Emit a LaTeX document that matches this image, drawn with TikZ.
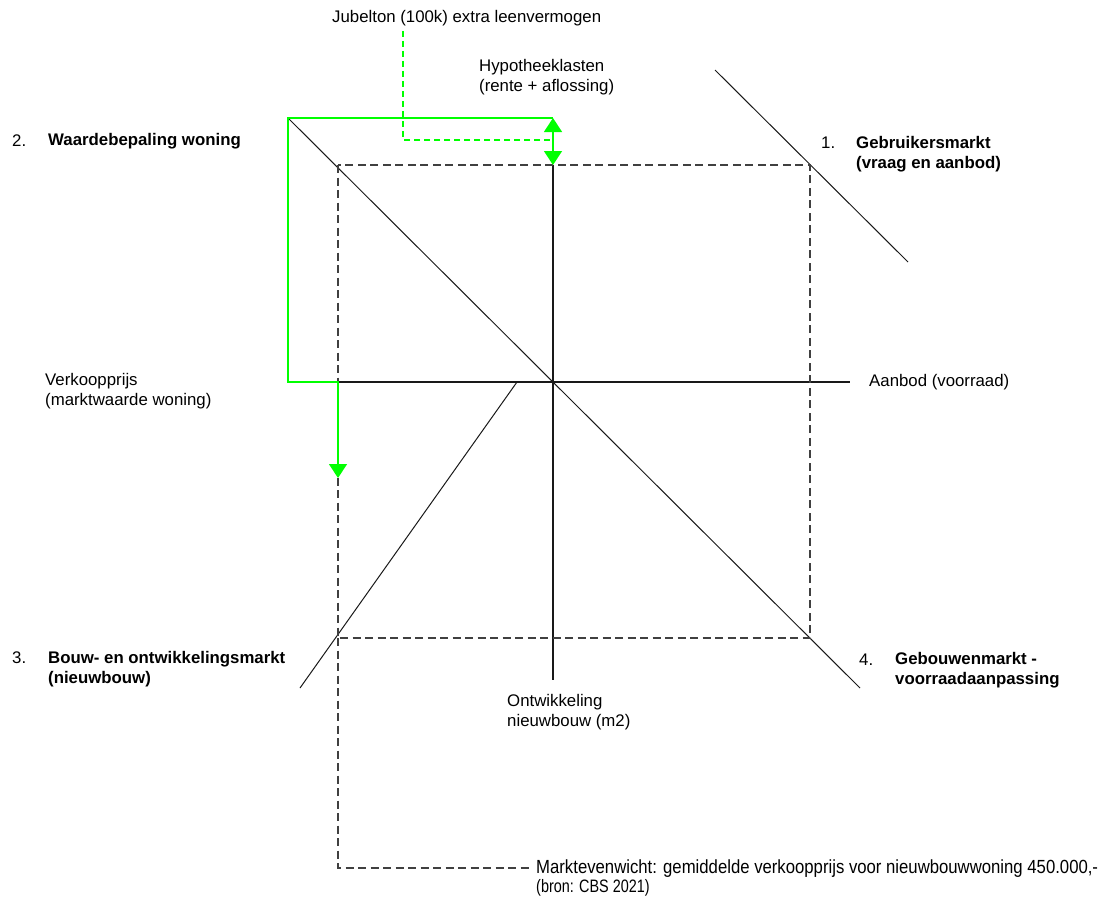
\documentclass[tikz,border=0pt]{standalone}
\usepackage{fontspec}
\setmainfont{Liberation Sans}
\newfontfamily\narrowfont[FakeStretch=0.8]{Liberation Sans}
\newfontfamily\semnarrowfont[FakeStretch=0.88]{Liberation Sans}
\usetikzlibrary{arrows.meta}
\begin{document}
\begin{tikzpicture}[x=1pt,y=-1pt,
  lbl/.style={inner sep=0pt,anchor=west,align=left,font=\fontsize{16.8}{20}\selectfont},
  blbl/.style={lbl,font=\fontsize{16.8}{20}\selectfont\bfseries},
  axis/.style={draw=black!90,line width=1.2pt},
  guide/.style={draw=black!75,line width=1.2pt,dash pattern=on 8pt off 4.5pt},
  flow/.style={draw=green,line width=1.3pt},
  flowdash/.style={flow,dash pattern=on 6pt off 4pt},
  tip/.style={-{Triangle[width=18pt,length=14pt]}}]
\path[use as bounding box] (0,0) rectangle (1105,899);

% labels
\node[lbl] (jubel) at (332,18) {Jubelton (100k) extra leenvermogen};
\node[lbl] (hypo) at (479,77) {Hypotheeklasten\\(rente + aflossing)};
\node[lbl] (n2) at (12,141) {2.};
\node[blbl] (waarde) at (48,141) {Waardebepaling woning};
\node[lbl] (n1) at (821,143) {1.};
\node[blbl] (gebruik) at (856,154) {Gebruikersmarkt\\(vraag en aanbod)};
\node[lbl] (verkoop) at (45,391) {Verkoopprijs\\(marktwaarde woning)};
\node[lbl] (aanbod) at (869,382) {Aanbod (voorraad)};
\node[lbl] (n3) at (12,658) {3.};
\node[blbl] (bouw) at (48,669) {Bouw- en ontwikkelingsmarkt\\(nieuwbouw)};
\node[lbl] (n4) at (859,660) {4.};
\node[blbl] (gebouw) at (895,670) {Gebouwenmarkt -\\voorraadaanpassing};
\node[lbl] (ontw) at (507,712) {Ontwikkeling\\nieuwbouw (m2)};
\node[lbl,font=\fontsize{16.8}{19}\selectfont] (markt) at (536,878)
  {{\semnarrowfont\fontsize{19}{19}\selectfont Marktevenwicht: gemiddelde verkoopprijs voor nieuwbouwwoning 450.000,-}\\
   {\narrowfont\fontsize{18}{19}\selectfont (bron: CBS 2021)}};

% reference points
\coordinate (O) at (553,382);
\coordinate (axL) at (338,382);
\coordinate (axR) at (850,382);
\coordinate (axT) at (553,165);
\coordinate (axB) at (553,680);
\coordinate (dgA) at (288,118);
\coordinate (dgB) at (860,688);
\coordinate (usA) at (715,70);
\coordinate (usB) at (908,262);
\coordinate (bwA) at (300,688);
\coordinate (bwB) at (517,382);
\coordinate (sqTL) at (338,165);
\coordinate (sqBR) at (810,638);
\coordinate (sqBL) at (338,638);
\coordinate (eqC) at (338,868);
\coordinate (eqE) at (530,868);
\coordinate (hTop) at (553,118);
\coordinate (gBend) at (288,382);
\coordinate (gDrop) at (338,478);
\coordinate (jTop) at (403,31);
\coordinate (jBend) at (403,140);
\coordinate (jEnd) at (553,140);

% market lines and axes
\draw[axis] (axL) -- (axR);
\draw[axis] (axT) -- (axB);
\draw[axis,line width=1pt] (dgA) -- (dgB);
\draw[axis,line width=1pt] (usA) -- (usB);
\draw[axis,line width=1pt] (bwA) -- (bwB);

% equilibrium loop
\draw[guide] (sqTL) rectangle (sqBR);
\draw[guide] (sqBL) -- (eqC) -- (eqE);

% mortgage / price flow
\draw[flowdash] (jTop) -- (jBend) -- (jEnd);
\draw[flow,tip] (hTop) -- (dgA) -- (gBend) -- (axL) -- (gDrop);
\draw[flow,{Triangle[width=18pt,length=14pt]}-{Triangle[width=18pt,length=14pt]}] (hTop) -- (axT);
\end{tikzpicture}
\end{document}
